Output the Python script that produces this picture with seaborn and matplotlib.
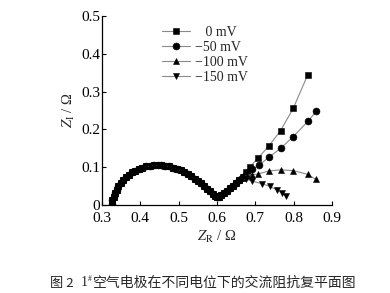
import matplotlib
matplotlib.use("Agg")
import matplotlib.pyplot as plt
import seaborn as sns
import pandas as pd

# shared semicircle (high-frequency arc)
arc_x = [0.325, 0.327, 0.330, 0.334, 0.338, 0.343, 0.349, 0.355, 0.362, 0.370,
         0.378, 0.387, 0.396, 0.405, 0.415, 0.425, 0.435, 0.445, 0.455, 0.465,
         0.475, 0.485, 0.495, 0.505, 0.515, 0.524, 0.533, 0.542, 0.551, 0.559,
         0.567, 0.575, 0.582, 0.589, 0.595, 0.600, 0.605, 0.611, 0.618, 0.626,
         0.634, 0.642, 0.650, 0.658]
arc_y = [0.002, 0.012, 0.022, 0.032, 0.041, 0.050, 0.058, 0.066, 0.073, 0.080,
         0.086, 0.091, 0.095, 0.099, 0.102, 0.104, 0.105, 0.106, 0.105, 0.104,
         0.102, 0.099, 0.096, 0.092, 0.087, 0.082, 0.076, 0.070, 0.063, 0.057,
         0.050, 0.043, 0.036, 0.030, 0.025, 0.021, 0.022, 0.026, 0.031, 0.037,
         0.044, 0.051, 0.059, 0.067]

labels = ["   0 mV", "\u221250 mV", "\u2212100 mV", "\u2212150 mV"]
tail_x_0 = [0.667, 0.676, 0.685, 0.707, 0.735, 0.766, 0.799, 0.837]
tail_y_0 = [0.075, 0.086, 0.100, 0.124, 0.156, 0.197, 0.256, 0.345]
tail_x_50 = [0.667, 0.678, 0.690, 0.709, 0.735, 0.766, 0.799, 0.837, 0.859]
tail_y_50 = [0.074, 0.085, 0.094, 0.105, 0.126, 0.150, 0.181, 0.221, 0.248]
tail_x_100 = [0.667, 0.678, 0.690, 0.707, 0.735, 0.766, 0.799, 0.837, 0.857]
tail_y_100 = [0.072, 0.078, 0.080, 0.082, 0.090, 0.093, 0.091, 0.081, 0.068]
tail_x_150 = [0.665, 0.676, 0.692, 0.718, 0.738, 0.757, 0.770, 0.779]
tail_y_150 = [0.068, 0.068, 0.063, 0.056, 0.049, 0.040, 0.031, 0.024]

tails_x = [tail_x_0, tail_x_50, tail_x_100, tail_x_150]
tails_y = [tail_y_0, tail_y_50, tail_y_100, tail_y_150]
markers = ["s", "o", "^", "v"]

x_ticks = [0.3, 0.4, 0.5, 0.6, 0.7, 0.8, 0.9]
y_ticks = [0, 0.1, 0.2, 0.3, 0.4, 0.5]
y_ticklabels = ["0", "0.1", "0.2", "0.3", "0.4", "0.5"]

sns.set_theme(style="ticks")
plt.rcParams["font.family"] = ["Liberation Serif", "DejaVu Serif"]
plt.rcParams["mathtext.fontset"] = "stix"

fig = plt.figure(figsize=(3.9, 2.93), dpi=100)
ax = fig.add_axes([102 / 390, 1 - 205 / 293, (332 - 102) / 390, (205 - 16) / 293])

for lab, tx, ty, m in zip(labels, tails_x, tails_y, markers):
    df = pd.DataFrame({"x": arc_x + tx, "y": arc_y + ty})
    sns.lineplot(data=df, x="x", y="y", sort=False, estimator=None, ax=ax,
                 color="#8a8a8a", linewidth=0.8, marker=m, markersize=5,
                 markerfacecolor="black", markeredgecolor="black",
                 markeredgewidth=0.4, label=lab)

ax.set_xlim(0.3, 0.9)
ax.set_ylim(0, 0.5)
ax.set_xticks(x_ticks)
ax.set_xticklabels([f"{v:.1f}" for v in x_ticks])
ax.set_yticks(y_ticks)
ax.set_yticklabels(y_ticklabels)
ax.tick_params(direction="in", length=3, width=0.8, labelsize=11, pad=1.5, colors="black")
ax.tick_params(axis="x", pad=5)
for s in ["top", "right"]:
    ax.spines[s].set_visible(False)
for s in ["left", "bottom"]:
    ax.spines[s].set_color("black")
    ax.spines[s].set_linewidth(0.9)
ax.set_xlabel("$Z_\\mathrm{R}$ / \u03a9", fontsize=10.5, labelpad=3)
ax.set_ylabel("$Z_\\mathrm{I}$ / \u03a9", fontsize=10.5, labelpad=3)

leg = ax.legend(loc="upper left", bbox_to_anchor=(162 / 390, 1 - 26 / 293),
                bbox_transform=fig.transFigure, frameon=False, fontsize=10,
                handlelength=2.0, handletextpad=0.4, labelspacing=0.15,
                borderpad=0, borderaxespad=0)

cap_y = 1 - 283 / 293
cjk = ["Noto Sans CJK SC", "DejaVu Sans"]
fig.text(50 / 390, cap_y, "图 2", family=cjk, fontsize=9.5, va="center", ha="left")
fig.text(81 / 390, cap_y, "1", family=["Liberation Serif"], fontsize=10, va="center", ha="left")
fig.text(87.5 / 390, cap_y + 0.014, "#", family=["Liberation Serif"], fontsize=5.5, va="center", ha="left")
fig.text(93 / 390, cap_y, "空气电极在不同电位下的交流阻抗复平面图", family=cjk,
         fontsize=10, va="center", ha="left")

fig.savefig("out.png", dpi=100)
